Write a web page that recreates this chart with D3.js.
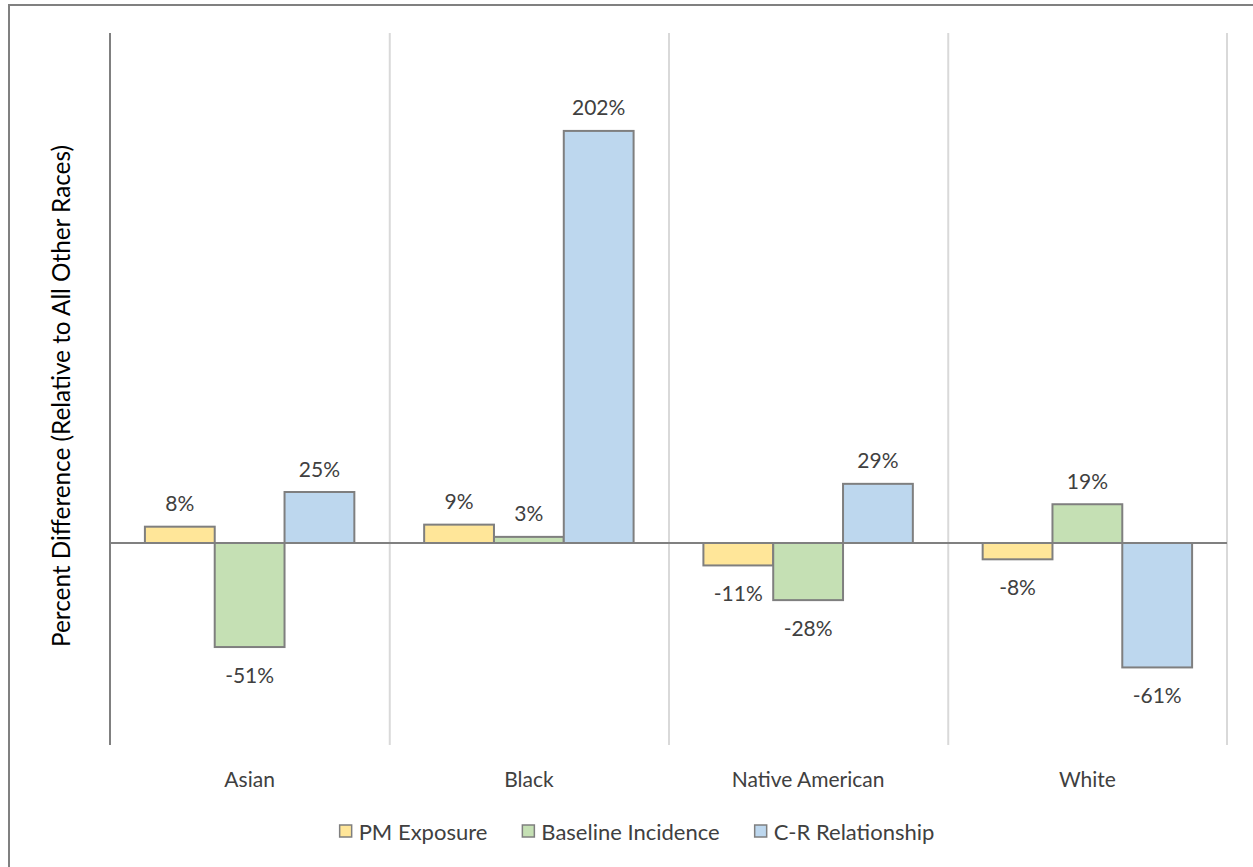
<!DOCTYPE html>
<html><head><meta charset="utf-8">
<script src="https://cdn.jsdelivr.net/npm/d3@7/dist/d3.min.js"></script>
<style>html,body{margin:0;padding:0;background:#fff;}svg{display:block;}</style>
</head><body>
<script>
const categories = ["Asian", "Black", "Native American", "White"];
const seriesNames = ["PM Exposure", "Baseline Incidence", "C-R Relationship"];
const pmExposure = [8, 9, -11, -8];
const baselineIncidence = [-51, 3, -28, 19];
const crRelationship = [25, 202, 29, -61];
const seriesValues = [pmExposure, baselineIncidence, crRelationship];
const colors = ["#FFE699", "#C5E0B4", "#BDD7EE"];
const yTitle = "Percent Difference (Relative to All Other Races)";

(function () {
const W = 1253, H = 867;
const font = "Lato, 'Open Sans', sans-serif";
const svg = d3.select("body").append("svg").attr("width", W).attr("height", H);

// outer frame
svg.append("rect").attr("x", 9).attr("y", 5).attr("width", W + 10).attr("height", H + 10)
  .attr("fill", "none").attr("stroke", "#808080").attr("stroke-width", 2);

const pL = 110, pR = 1227, pT = 33, pB = 745;
const x = d3.scaleBand().domain(categories).range([pL, pR]).padding(0);
const y = d3.scaleLinear().domain([-100, 250]).range([747, 33]);
const inner = d3.scaleBand().domain(seriesNames).range([0, x.bandwidth()]).paddingInner(0).paddingOuter(0.5);

// vertical gridlines at category boundaries
categories.forEach((c, i) => {
  if (i === 0) return;
  svg.append("line").attr("x1", x(c) + 0.5).attr("x2", x(c) + 0.5).attr("y1", pT).attr("y2", pB)
    .attr("stroke", "#d9d9d9").attr("stroke-width", 2);
});
svg.append("line").attr("x1", pR).attr("x2", pR).attr("y1", pT).attr("y2", pB)
  .attr("stroke", "#d9d9d9").attr("stroke-width", 2);

// bars
const data = [];
categories.forEach((c, i) => seriesNames.forEach((s, j) => data.push({c, s, j, v: seriesValues[j][i]})));

svg.append("g").selectAll("rect").data(data).join("rect")
  .attr("x", d => x(d.c) + inner(d.s))
  .attr("width", inner.bandwidth())
  .attr("y", d => y(Math.max(0, d.v)))
  .attr("height", d => Math.abs(y(d.v) - y(0)))
  .attr("fill", d => colors[d.j])
  .attr("stroke", "#7f7f7f").attr("stroke-width", 2);

// zero line
svg.append("line").attr("x1", pL).attr("x2", pR).attr("y1", y(0)).attr("y2", y(0))
  .attr("stroke", "#808080").attr("stroke-width", 2);
// left axis
svg.append("line").attr("x1", pL).attr("x2", pL).attr("y1", pT).attr("y2", pB)
  .attr("stroke", "#808080").attr("stroke-width", 2);

// data labels
svg.append("g").selectAll("text").data(data).join("text")
  .attr("x", d => x(d.c) + inner(d.s) + inner.bandwidth() / 2)
  .attr("y", d => d.v >= 0 ? y(d.v) - 24 : y(d.v) + 27)
  .attr("dominant-baseline", "central")
  .attr("text-anchor", "middle")
  .attr("font-family", font).attr("font-size", 21).attr("fill", "#404040")
  .text(d => d.v + "%");

// category labels
svg.append("g").selectAll("text").data(categories).join("text")
  .attr("x", d => x(d) + x.bandwidth() / 2).attr("y", 778)
  .attr("text-anchor", "middle").attr("dominant-baseline", "central")
  .attr("font-family", font).attr("font-size", 21).attr("fill", "#404040")
  .text(d => d);

// y title
svg.append("text").attr("transform", `translate(60,396) rotate(-90)`)
  .attr("text-anchor", "middle").attr("dominant-baseline", "central")
  .attr("font-family", font).attr("font-size", 24.3).attr("fill", "#000")
  .text(yTitle);

// legend (laid out from measured text widths, centred)
const lg = svg.append("g");
const sw = 12, gapT = 7, gapItem = 35, ly = 831;
const items = seriesNames.map((s, j) => {
  const g = lg.append("g");
  g.append("rect").attr("x", 0).attr("y", ly - sw / 2).attr("width", sw).attr("height", sw)
    .attr("fill", colors[j]).attr("stroke", "#7f7f7f").attr("stroke-width", 1.5);
  const t = g.append("text").attr("x", sw + gapT).attr("y", ly)
    .attr("dominant-baseline", "central")
    .attr("font-family", font).attr("font-size", 22).attr("fill", "#404040").text(s);
  return {g, w: sw + gapT + t.node().getComputedTextLength()};
});
const total = d3.sum(items, d => d.w) + gapItem * (items.length - 1);
let cx = 637 - total / 2;
items.forEach(it => { it.g.attr("transform", `translate(${cx},0)`); cx += it.w + gapItem; });
})();
</script>
</body></html>
